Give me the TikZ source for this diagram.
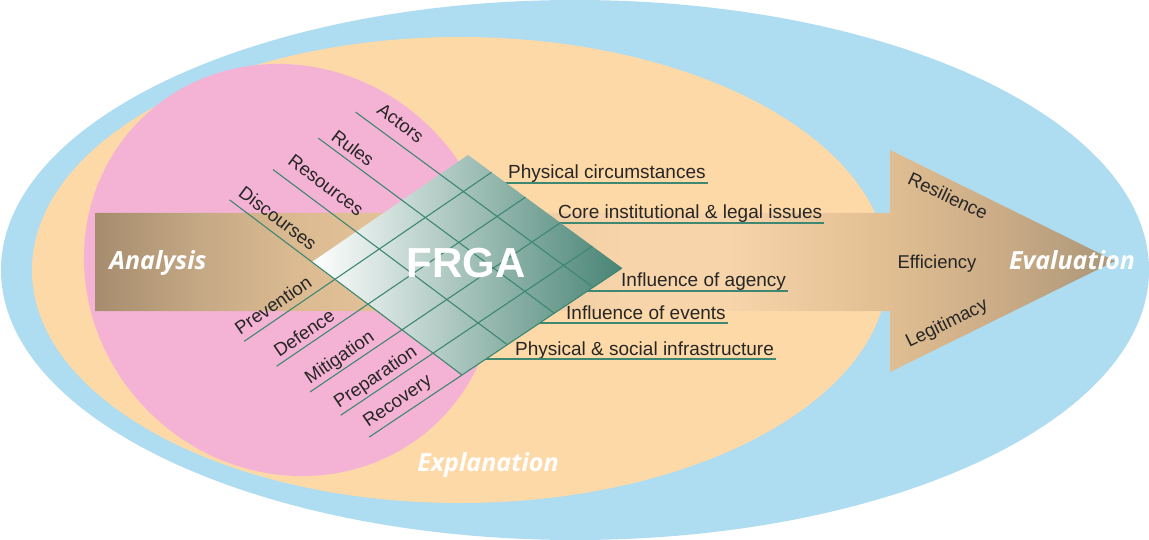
\documentclass[tikz,border=0pt]{standalone}
\usepackage{fontspec}
\setmainfont{Liberation Sans}
\newfontfamily\italfont{Open Sans}
\usetikzlibrary{calc}
\definecolor{bluebg}{RGB}{174,220,241}
\definecolor{peachbg}{RGB}{254,217,168}
\definecolor{pinkbg}{RGB}{244,179,213}
\definecolor{tealline}{RGB}{62,135,115}
\definecolor{gridteal}{RGB}{72,132,116}
\definecolor{arA}{RGB}{166,140,110}
\definecolor{arB}{RGB}{196,168,132}
\definecolor{arC}{RGB}{220,187,146}
\definecolor{arD}{RGB}{247,212,169}
\definecolor{arE}{RGB}{224,190,146}
\definecolor{arF}{RGB}{202,171,134}
\definecolor{arG}{RGB}{170,150,120}
\pgfdeclarehorizontalshading{arrowsh}{100bp}{color(0bp)=(arA); color(25bp)=(arA); color(30bp)=(arB); color(35bp)=(arC); color(51bp)=(arD); color(56bp)=(arD); color(64bp)=(arE); color(69.5bp)=(arF); color(75bp)=(arG); color(100bp)=(arG)}
\tikzset{
  lab/.style={font=\fontsize{18.5}{20}\selectfont, text=black!85, inner sep=0pt},
  rlab/.style={font=\fontsize{19}{21}\selectfont, text=black!85, inner sep=0pt, anchor=base west},
  gline/.style={draw=tealline, line width=1.1pt},
  uline/.style={draw=tealline, line width=1.2pt},
  bigital/.style={font=\italfont\bfseries\itshape\fontsize{25}{28}\selectfont, text=white, inner sep=0pt},
}
\begin{document}
\begin{tikzpicture}[x=1pt,y=-1pt]
\useasboundingbox (0,0) rectangle (1149,540);
% background regions
\fill[bluebg] (575,270) ellipse [x radius=574, y radius=270];
\fill[peachbg] (460,270) ellipse [x radius=428, y radius=233];
\fill[pinkbg, rotate around={-45:(290,270)}] (290,270) ellipse [x radius=212, y radius=200];
% big arrow
\shade[shading=arrowsh] (95,213) -- (890,213) -- (890,150) -- (1115,261) -- (890,372) -- (890,311) -- (95,311) -- cycle;
% right labels and their underlines (behind grid)
\node[rlab] (r1) at (508,179) {Physical circumstances};
\node[rlab] (r2) at (558,219) {Core institutional \& legal issues};
\node[rlab] (r3) at (621,287) {Influence of agency};
\node[rlab] (r4) at (566,319) {Influence of events};
\node[rlab] (r5) at (515,355) {Physical \& social infrastructure};
\coordinate (u1) at (470,183);
\coordinate (u2) at (470,223);
\coordinate (u3) at (470,291);
\coordinate (u4) at (470,323);
\coordinate (u5) at (470,359);
\draw[uline] (u1) -- ($(u1 -| r1.east)+(2,0)$);
\draw[uline] (u2) -- ($(u2 -| r2.east)+(2,0)$);
\draw[uline] (u3) -- ($(u3 -| r3.east)+(2,0)$);
\draw[uline] (u4) -- ($(u4 -| r4.east)+(2,0)$);
\draw[uline] (u5) -- ($(u5 -| r5.east)+(2,0)$);
% grid
\coordinate (L) at (312,262);
\coordinate (T) at (468,155);
\coordinate (R) at (622,268);
\coordinate (B) at (462,375);
\shade[left color=white, right color=gridteal] (L) -- (T) -- (R) -- (B) -- cycle;
\foreach \f/\n in {0/dis, 0.283/res, 0.577/rul, 0.82/act} {
  \coordinate (dr\n a) at ($(L)!\f!(T)$);
  \coordinate (dr\n b) at ($(B)!\f!(R)$);
  \coordinate (dr\n s) at ($(dr\n a)!-0.55!(dr\n b)$);
  \draw[gline] (dr\n s) -- (dr\n b);
}
\foreach \f/\n in {0.153/pre, 0.373/def, 0.6/mit, 0.807/prp, 1/rec} {
  \coordinate (ur\n a) at ($(L)!\f!(B)$);
  \coordinate (ur\n b) at ($(T)!\f!(R)$);
  \coordinate (ur\n s) at ($(ur\n a)!-0.58!(ur\n b)$);
  \draw[gline] (ur\n s) -- (ur\n b);
}
% rotated labels
\node[lab, rotate=-37] (tAct) at (400.7,123.3) {Actors};
\node[lab, rotate=-37] (tRul) at (353,148) {Rules};
\node[lab, rotate=-37] (tRes) at (326,185) {Resources};
\node[lab, rotate=-37] (tDis) at (278,218) {Discourses};
\node[lab, rotate=34.4] (tPre) at (273,305) {Prevention};
\node[lab, rotate=34.4] (tDef) at (304,333) {Defence};
\node[lab, rotate=34.4] (tMit) at (340,358) {Mitigation};
\node[lab, rotate=34.4] (tPrp) at (376,378) {Preparation};
\node[lab, rotate=34.4] (tRec) at (398,402) {Recovery};
% center title
\node[font=\bfseries\fontsize{42}{44}\selectfont, text=white, inner sep=0pt] (frga) at (466,263) {FRGA};
% arrow head labels
\node[lab, rotate=-25] (tResil) at (948,196) {Resilience};
\node[lab] (tEff) at (937,264) {Efficiency};
\node[lab, rotate=26] (tLeg) at (947,324) {Legitimacy};
% italic labels
\node[bigital] (tAna) at (158,263) {Analysis};
\node[bigital] (tEva) at (1072,260) {Evaluation};
\node[bigital] (tExp) at (488,465) {Explanation};
\end{tikzpicture}
\end{document}
